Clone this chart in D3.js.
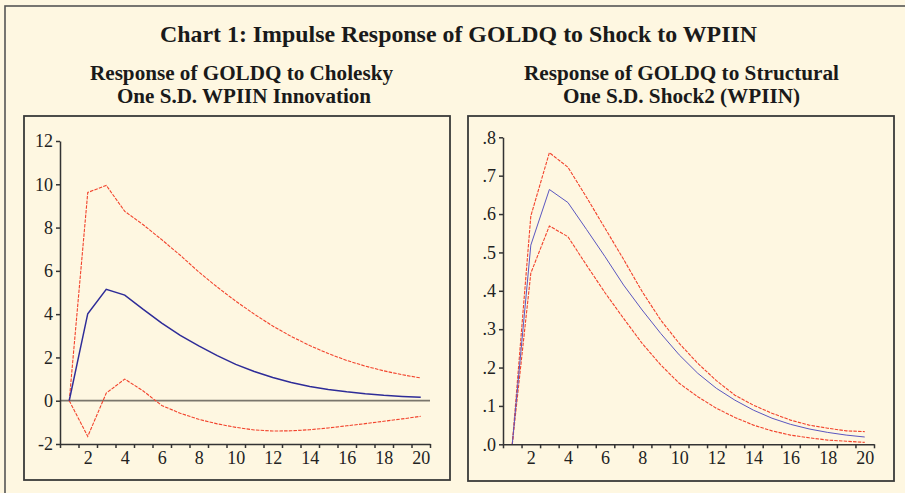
<!DOCTYPE html>
<html>
<head>
<meta charset="utf-8">
<script src="https://cdn.jsdelivr.net/npm/d3@7"></script>
<style>
    body { margin: 0; background: #fef7e1; }
    svg { display: block; }
</style>
</head>
<body>
<svg id="svg0"></svg>
<script>
// ----- data -----

let periods = [1, 2, 3, 4, 5, 6, 7, 8, 9, 10, 11, 12, 13, 14, 15, 16, 17, 18, 19, 20];

// Cholesky one S.D. WPIIN innovation
let cholMid = [0, 4.02, 5.15, 4.88, 4.22, 3.59, 3.02, 2.53, 2.08, 1.68, 1.35, 1.07, 0.84, 0.66, 0.52, 0.41, 0.32, 0.25, 0.2, 0.16];
let cholUp = [0, 9.62, 9.95, 8.75, 8.13, 7.44, 6.72, 5.95, 5.25, 4.6, 4.0, 3.45, 2.97, 2.55, 2.18, 1.86, 1.6, 1.38, 1.2, 1.05];
let cholLo = [0, -1.65, 0.35, 1.0, 0.45, -0.22, -0.58, -0.86, -1.07, -1.23, -1.35, -1.4, -1.39, -1.34, -1.26, -1.16, -1.06, -0.95, -0.84, -0.72];

// structural one S.D. shock2 (WPIIN)
let strMid = [0, 0.519, 0.664, 0.63, 0.56, 0.489, 0.415, 0.35, 0.289, 0.233, 0.185, 0.146, 0.115, 0.089, 0.068, 0.052, 0.04, 0.031, 0.024, 0.019];
let strUp = [0, 0.595, 0.76, 0.722, 0.644, 0.563, 0.482, 0.398, 0.324, 0.263, 0.211, 0.166, 0.128, 0.102, 0.081, 0.063, 0.05, 0.042, 0.035, 0.033];
let strLo = [0, 0.446, 0.569, 0.541, 0.467, 0.395, 0.328, 0.263, 0.207, 0.159, 0.124, 0.094, 0.07, 0.05, 0.035, 0.024, 0.017, 0.011, 0.008, 0.005];

let xLabels = [2, 4, 6, 8, 10, 12, 14, 16, 18, 20];
let xTicks = [0.5, 1.5, 2.5, 3.5, 4.5, 5.5, 6.5, 7.5, 8.5, 9.5, 10.5, 11.5, 12.5, 13.5, 14.5, 15.5, 16.5, 17.5, 18.5, 19.5, 20.5];
let leftYTicks = [-2, 0, 2, 4, 6, 8, 10, 12];
let rightYTicks = [0, 0.1, 0.2, 0.3, 0.4, 0.5, 0.6, 0.7, 0.8];

let mainTitle = "Chart 1: Impulse Response of GOLDQ to Shock to WPIIN";
let leftTitle = ["Response of GOLDQ to Cholesky", "One S.D. WPIIN Innovation"];
let rightTitle = ["Response of GOLDQ to Structural", "One S.D. Shock2 (WPIIN)"];

// ----- drawing -----

let svgWidth = 905;
let svgHeight = 493;
let serif = "'Liberation Serif', 'Times New Roman', serif";

let svg = d3
    .select("#svg0")
    .attr("width", svgWidth)
    .attr("height", svgHeight)
    .style("background", "#fef7e1");

// outer frame (runs off the right and bottom edge)
svg.append("rect")
    .attr("x", 5)
    .attr("y", 6)
    .attr("width", 950)
    .attr("height", 550)
    .attr("fill", "none")
    .attr("stroke", "#555")
    .attr("stroke-width", 1.6);

function addTitle(text, x, y, size, width) {
    svg.append("text")
        .attr("x", x)
        .attr("y", y)
        .attr("text-anchor", "middle")
        .style("font-family", serif)
        .style("font-weight", "bold")
        .style("font-size", size + "px")
        .attr("fill", "#1a1a1a")
        .attr("textLength", width)
        .attr("lengthAdjust", "spacingAndGlyphs")
        .text(text);
}

addTitle(mainTitle, 458.5, 42, 23, 597);
addTitle(leftTitle[0], 241.5, 80, 20, 303);
addTitle(leftTitle[1], 244, 103, 20, 254);
addTitle(rightTitle[0], 681.5, 80, 20, 315);
addTitle(rightTitle[1], 681.5, 103, 20, 237);

function drawPanel(p) {
    let g = svg.append("g");

    g.append("rect")
        .attr("x", p.box[0])
        .attr("y", p.box[1])
        .attr("width", p.box[2] - p.box[0])
        .attr("height", p.box[3] - p.box[1])
        .attr("fill", "none")
        .attr("stroke", "#3a3a3a")
        .attr("stroke-width", 1.8);

    let x = d3.scaleLinear().domain([0.5, 20.5]).range(p.xRange);
    let y = d3.scaleLinear().domain(p.yDomain).range(p.yRange);

    // zero line
    if (p.zeroLine) {
        g.append("line")
            .attr("x1", p.xRange[0])
            .attr("x2", p.xRange[1])
            .attr("y1", y(0))
            .attr("y2", y(0))
            .attr("stroke", "#7a766c")
            .attr("stroke-width", 1.8);
    }

    let line = d3.line()
        .x((d, i) => x(periods[i]))
        .y(d => y(d));

    [p.lo, p.up].forEach(band => {
        g.append("path")
            .datum(band)
            .attr("d", line)
            .attr("fill", "none")
            .attr("stroke", "#f2432c")
            .attr("stroke-width", 1.1)
            .attr("stroke-dasharray", "3.5,1.2");
    });

    g.append("path")
        .datum(p.mid)
        .attr("d", line)
        .attr("fill", "none")
        .attr("stroke", p.midColor)
        .attr("stroke-width", p.midWidth);

    // axes
    let groupY = g.append("g").attr("transform", `translate(${p.xRange[0]}, 0)`);
    let groupX = g.append("g").attr("transform", `translate(0, ${p.yRange[0]})`);
    let groupXLab = g.append("g").attr("transform", `translate(0, ${p.yRange[0]})`);

    let axisY = d3.axisLeft(y)
        .tickValues(p.yTicks)
        .tickFormat(p.yFormat)
        .tickSize(4)
        .tickSizeOuter(0)
        .tickPadding(3);
    let axisX = d3.axisBottom(x)
        .tickValues(xTicks)
        .tickFormat("")
        .tickSize(4)
        .tickSizeOuter(0);
    let axisXLab = d3.axisBottom(x)
        .tickValues(xLabels)
        .tickSize(0)
        .tickPadding(7);

    groupY.call(axisY);
    groupX.call(axisX);
    groupXLab.call(axisXLab);
    groupXLab.select(".domain").remove();

    g.selectAll(".domain, .tick line")
        .attr("stroke", "#333")
        .attr("stroke-width", 1.5);
    g.selectAll(".tick text")
        .style("font-family", serif)
        .style("font-size", "18px")
        .attr("fill", "#222");
}

drawPanel({
    box: [24, 116, 450, 480],
    xRange: [60, 430],
    yDomain: [-2, 12],
    yRange: [444, 141],
    yTicks: leftYTicks,
    yFormat: d => String(d),
    zeroLine: true,
    mid: cholMid,
    up: cholUp,
    lo: cholLo,
    midColor: "#2e2c98",
    midWidth: 1.5
});

drawPanel({
    box: [468, 116, 894, 481],
    xRange: [503, 874],
    yDomain: [0, 0.8],
    yRange: [444.3, 137.3],
    yTicks: rightYTicks,
    yFormat: d => d3.format(".1f")(d).replace(/^0/, ""),
    zeroLine: false,
    mid: strMid,
    up: strUp,
    lo: strLo,
    midColor: "#5a56c0",
    midWidth: 1
});
</script>
</body>
</html>
